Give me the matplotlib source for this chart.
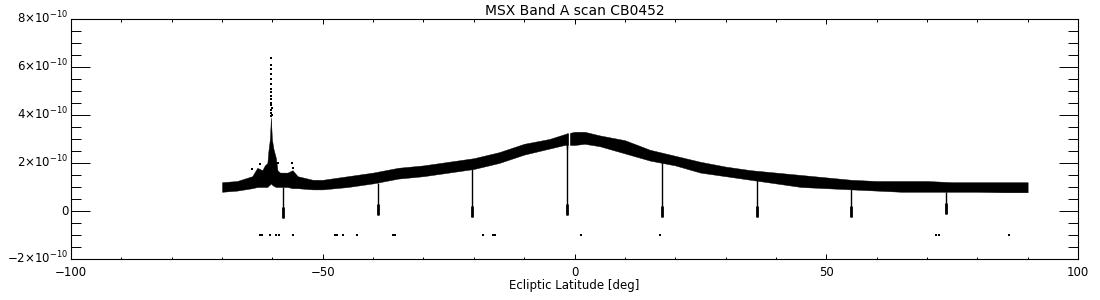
import matplotlib
matplotlib.use("Agg")
import matplotlib.pyplot as plt
from matplotlib.ticker import MultipleLocator, FixedLocator, NullFormatter

# band envelope (units of 1e-10)
band_x = [-70, -67, -64, -63, -62, -61.5, -61, -60.8, -60.5, -60.3, -60.1, -59.8, -59.3, -59,
          -58.5, -57, -56, -55, -52, -50, -45, -40, -35, -30, -25, -20, -15, -10, -5, -2, 0, 2,
          5, 10, 15, 20, 25, 30, 35, 40, 45, 50, 55, 60, 65, 70, 75, 80, 85, 90]
band_hi = [1.2, 1.25, 1.45, 1.8, 1.7, 1.9, 2.0, 2.5, 3.0, 3.9, 3.0, 2.6, 2.2, 1.7,
           1.6, 1.6, 1.7, 1.45, 1.3, 1.3, 1.45, 1.6, 1.8, 1.9, 2.05, 2.2, 2.45, 2.8, 3.0, 3.2, 3.3, 3.3,
           3.15, 2.95, 2.55, 2.3, 2.05, 1.85, 1.7, 1.6, 1.5, 1.4, 1.3, 1.25, 1.25, 1.25, 1.2, 1.2, 1.2, 1.2]
band_lo = [0.8, 0.85, 0.95, 1.0, 1.0, 1.0, 1.0, 1.05, 1.1, 1.15, 1.1, 1.05, 1.0, 1.0,
           1.0, 1.0, 0.95, 0.95, 0.9, 0.9, 1.0, 1.15, 1.35, 1.45, 1.6, 1.75, 2.0, 2.35, 2.6, 2.75, 2.75, 2.8,
           2.7, 2.4, 2.1, 1.9, 1.6, 1.45, 1.3, 1.15, 1.0, 0.95, 0.9, 0.85, 0.8, 0.8, 0.8, 0.8, 0.78, 0.78]

# sparse points of the bright source near -60 deg
peak_x = [-60.35, -60.3, -60.3, -60.25, -60.3, -60.2, -60.3, -60.25, -60.2, -60.3, -60.2,
          -60.3, -60.15, -60.25, -60.2, -60.1, -60.35, -58.8, -56.2, -56.0, -55.9, -64.0, -62.5]
peak_y = [6.37, 6.1, 5.9, 5.7, 5.5, 5.3, 5.1, 4.95, 4.8, 4.65, 4.5,
          4.4, 4.3, 4.2, 4.1, 4.0, 3.95, 2.0, 2.0, 1.8, 1.6, 1.75, 1.95]

# dropouts (calibration dips)
dip_x = [-57.8, -39.1, -20.3, -1.4, 17.3, 36.3, 55.0, 73.7]
dip_bottom = [-0.3, -0.15, -0.25, -0.17, -0.25, -0.25, -0.25, -0.12]

# isolated samples near -1e-10
low_x = [-62.4, -62.0, -60.4, -59.2, -58.6, -55.9, -47.5, -47.1, -45.9, -43.1, -36.0, -35.6,
         -18.1, -16.1, -15.7, 1.2, 16.9, 71.8, 72.4, 86.3]
low_y = [-1.0] * len(low_x)

ytick_vals = [-2, 0, 2, 4, 6, 8]
ytick_labels = [r'$-2{\times}10^{-10}$', '0', r'$2{\times}10^{-10}$', r'$4{\times}10^{-10}$',
                r'$6{\times}10^{-10}$', r'$8{\times}10^{-10}$']

fig = plt.figure(figsize=(11, 3), dpi=100)
ax = fig.add_axes([71 / 1100, 41 / 300, 1007 / 1100, 240 / 300])

ax.fill_between(band_x, band_lo, band_hi, color='black', lw=0.3)
for x, b in zip(dip_x, dip_bottom):
    lo = band_lo[min(range(len(band_x)), key=lambda i: abs(band_x[i] - x))]
    ax.vlines(x, b, lo, color='black', lw=1.0)
    ax.vlines(x, b, b + 0.45, color='black', lw=2.0)
ax.vlines(-1.15, 2.6, 3.4, color='white', lw=1.0)
ax.vlines(-1.4, 2.6, 3.25, color='black', lw=1.0)
ax.scatter(peak_x, peak_y, s=1.5, color='black', marker='s', lw=0)
ax.scatter(low_x, low_y, s=1.5, color='black', marker='s', lw=0)

ax.set_xlim(-100, 100)
ax.set_ylim(-2, 8)
ax.xaxis.set_major_locator(MultipleLocator(50))
ax.xaxis.set_minor_locator(MultipleLocator(10))
ax.yaxis.set_major_locator(FixedLocator(ytick_vals))
ax.yaxis.set_major_formatter(NullFormatter())
ax.yaxis.set_minor_locator(MultipleLocator(0.5))
ax.xaxis.set_major_formatter(plt.FuncFormatter(lambda v, p: f"{int(v)}".replace('-', '\u2212')))

# y labels placed by hand so the base digits sit on the tick (superscript rises above)
for v, lbl in zip(ytick_vals, ytick_labels):
    ax.annotate(lbl, xy=(0, v), xycoords=('axes fraction', 'data'), xytext=(-2, -3.2),
                textcoords='offset points', ha='right', va='baseline', fontsize=8.5)

ax.tick_params(axis='x', which='major', direction='in', length=3.6, width=0.7,
               top=True, bottom=True, labelsize=8.5, pad=5)
ax.tick_params(axis='x', which='minor', direction='in', length=1.8, width=0.7, top=True, bottom=True)
ax.tick_params(axis='y', which='major', direction='in', length=14, width=0.7, left=True, right=True)
ax.tick_params(axis='y', which='minor', direction='in', length=7, width=0.7, left=True, right=True)
for s in ax.spines.values():
    s.set_linewidth(0.8)

ax.set_title('MSX Band A scan CB0452', fontsize=10, pad=3)
ax.set_xlabel('Ecliptic Latitude [deg]', fontsize=8.5, labelpad=0)

fig.savefig('out.png', dpi=100)
